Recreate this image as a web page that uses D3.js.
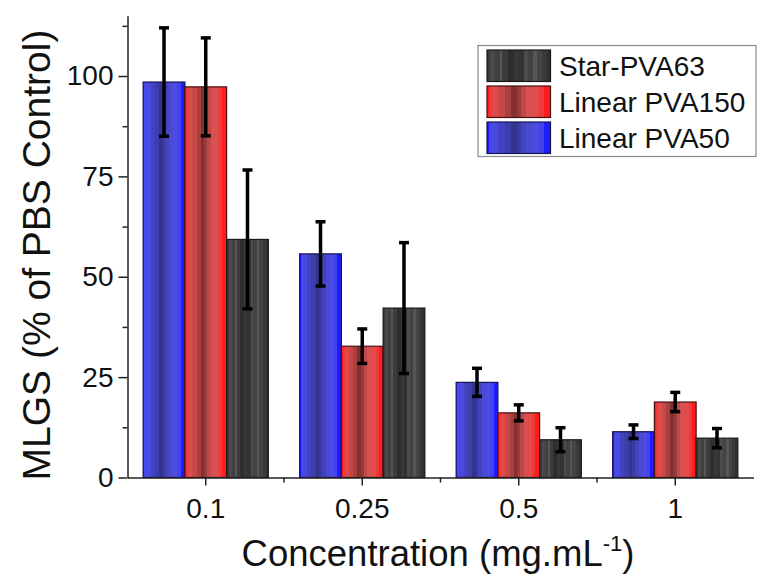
<!DOCTYPE html>
<html>
<head>
<meta charset="utf-8">
<script src="https://cdn.jsdelivr.net/npm/d3@7"></script>
<style>
  html, body { margin: 0; padding: 0; background: #fff; }
  svg { display: block; font-family: "Liberation Sans", Arial, sans-serif; }
</style>
</head>
<body>
<svg id="chart" width="760" height="574"></svg>
<script>
// ---- data ----
const categories = ["0.1", "0.25", "0.5", "1"];
const seriesNames = ["Linear PVA50", "Linear PVA150", "Star-PVA63"];
const pva50 = [98.5, 55.7, 23.7, 11.4];
const pva50Err = [13.5, 8.0, 3.5, 1.7];
const pva150 = [97.3, 32.7, 16.1, 18.8];
const pva150Err = [12.2, 4.3, 2.0, 2.4];
const star63 = [59.3, 42.2, 9.4, 9.8];
const star63Err = [17.3, 16.3, 3.0, 2.4];
const yTicks = [0, 25, 50, 75, 100];
const yMinorTicks = [12.5, 37.5, 62.5, 87.5, 112.5];
const legendOrder = ["Star-PVA63", "Linear PVA150", "Linear PVA50"];

const seriesValues = [pva50, pva150, star63];
const seriesErrors = [pva50Err, pva150Err, star63Err];

// ---- styles ----
const gradStops = {
  "Linear PVA50": [
    ["#1c1cff", 0.03], ["#4747f2", 0.08], ["#4a4ae0", 0.18], ["#4242c4", 0.28], ["#3d3dac", 0.38],
    ["#34348e", 0.47], ["#3a3aa4", 0.53], ["#4343be", 0.62], ["#4a4ad4", 0.72], ["#4c4ce2", 0.82],
    ["#4242f0", 0.9], ["#1c1cff", 1.0]
  ],
  "Linear PVA150": [
    ["#ff1c1c", 0.03], ["#f03a3a", 0.08], ["#e04a4a", 0.18], ["#c84848", 0.28], ["#a84040", 0.38],
    ["#843030", 0.47], ["#9a3a3a", 0.53], ["#c04848", 0.62], ["#d85050", 0.72], ["#e24c4c", 0.82],
    ["#f03a3a", 0.9], ["#ff1c1c", 1.0]
  ],
  "Star-PVA63": [
    ["#3a3a3a", 0.05], ["#4a4a4a", 0.12], ["#404040", 0.2], ["#565656", 0.24], ["#3c3c3c", 0.33],
    ["#2e2e2e", 0.42], ["#383838", 0.5], ["#333333", 0.58], ["#4c4c4c", 0.64], ["#424242", 0.72],
    ["#575757", 0.78], ["#444444", 0.86], ["#3a3a3a", 0.94], ["#303030", 1.0]
  ]
};
const strokeColors = { "Linear PVA50": "#141450", "Linear PVA150": "#4a1010", "Star-PVA63": "#1a1a1a" };

const svg = d3.select("#chart");
const defs = svg.append("defs");
seriesNames.forEach((name, i) => {
  const g = defs.append("linearGradient").attr("id", "grad" + i)
    .attr("x1", 0).attr("x2", 1).attr("y1", 0).attr("y2", 0);
  let prev = 0;
  gradStops[name].forEach(([c, end]) => {
    g.append("stop").attr("offset", prev).attr("stop-color", c);
    g.append("stop").attr("offset", end).attr("stop-color", c);
    prev = end;
  });
});

// ---- scales ----
const x = d3.scaleBand().domain(categories).range([127.5, 753.5]).paddingInner(0).paddingOuter(0);
const xInner = d3.scaleBand().domain(seriesNames).range([0, x.bandwidth() * 0.8]);
const y = d3.scaleLinear().domain([0, 115]).range([477.5, 15.8]);

// ---- bars ----
const groups = svg.append("g").selectAll("g").data(categories).join("g")
  .attr("transform", d => `translate(${x(d) + x.bandwidth() * 0.1},0)`);

seriesNames.forEach((name, si) => {
  groups.append("rect")
    .attr("x", xInner(name))
    .attr("width", xInner.bandwidth())
    .attr("y", (d, ci) => y(seriesValues[si][ci]))
    .attr("height", (d, ci) => y(0) - y(seriesValues[si][ci]))
    .attr("fill", `url(#grad${si})`)
    .attr("stroke", strokeColors[name])
    .attr("stroke-width", 1.2);
});

// ---- error bars ----
seriesNames.forEach((name, si) => {
  const eg = groups.append("g").attr("stroke", "#000").attr("stroke-width", 3.5);
  const cx = xInner(name) + xInner.bandwidth() / 2;
  eg.append("line")
    .attr("x1", cx).attr("x2", cx)
    .attr("y1", (d, ci) => y(seriesValues[si][ci] + seriesErrors[si][ci]))
    .attr("y2", (d, ci) => y(seriesValues[si][ci] - seriesErrors[si][ci]));
  [1, -1].forEach(sign => {
    eg.append("line")
      .attr("x1", cx - 5).attr("x2", cx + 5)
      .attr("y1", (d, ci) => y(seriesValues[si][ci] + sign * seriesErrors[si][ci]))
      .attr("y2", (d, ci) => y(seriesValues[si][ci] + sign * seriesErrors[si][ci]));
  });
});

// ---- axes ----
const axisColor = "#222";
const yAxis = svg.append("g").attr("transform", "translate(127.5,0)")
  .call(d3.axisLeft(y).tickValues(yTicks).tickSize(9).tickSizeOuter(0).tickPadding(5));
const yMinor = svg.append("g").attr("transform", "translate(127.5,0)")
  .call(d3.axisLeft(y).tickValues(yMinorTicks).tickSize(5).tickFormat(""));
yMinor.select(".domain").remove();

const xAxis = svg.append("g").attr("transform", "translate(0,477.5)")
  .call(d3.axisBottom(x).tickSize(8).tickSizeOuter(0).tickPadding(13));
const boundaries = categories.slice(1).map(c => x(c));
svg.append("g").attr("transform", "translate(0,477.5)")
  .selectAll("line").data(boundaries).join("line")
  .attr("x1", d => d).attr("x2", d => d).attr("y1", 0).attr("y2", 5)
  .attr("stroke", axisColor).attr("stroke-width", 1.5);

[yAxis, yMinor, xAxis].forEach(a => {
  a.selectAll("path, line").attr("stroke", axisColor).attr("stroke-width", 1.5);
  a.selectAll("text").attr("font-size", 28).attr("fill", "#111")
    .attr("font-family", '"Liberation Sans", Arial, sans-serif');
});

// ---- axis titles ----
svg.append("text")
  .attr("transform", "translate(50,255) rotate(-90)")
  .attr("text-anchor", "middle")
  .attr("font-size", 39).attr("fill", "#111")
  .text("MLGS (% of PBS Control)");

const xt = svg.append("text")
  .attr("x", 438).attr("y", 566)
  .attr("text-anchor", "middle")
  .attr("font-size", 36.5).attr("fill", "#111");
xt.append("tspan").text("Concentration (mg.mL");
xt.append("tspan").attr("font-size", 22).attr("dy", -15).text("-1");
xt.append("tspan").attr("dy", 15).text(")");

// ---- legend ----
const lg = svg.append("g");
lg.append("rect").attr("x", 478).attr("y", 45.5).attr("width", 278).attr("height", 111)
  .attr("fill", "#fff").attr("stroke", "#8a8a8a").attr("stroke-width", 1.2);
legendOrder.forEach((name, i) => {
  const si = seriesNames.indexOf(name);
  const row = lg.append("g").attr("transform", `translate(0,${50 + i * 36})`);
  row.append("rect").attr("x", 487).attr("y", 0).attr("width", 63.5).attr("height", 31.5)
    .attr("fill", `url(#grad${si})`).attr("stroke", strokeColors[name]).attr("stroke-width", 1.2);
  row.append("text").attr("x", 559).attr("y", 26).attr("font-size", 28).attr("fill", "#111")
    .text(name);
});
</script>
</body>
</html>
